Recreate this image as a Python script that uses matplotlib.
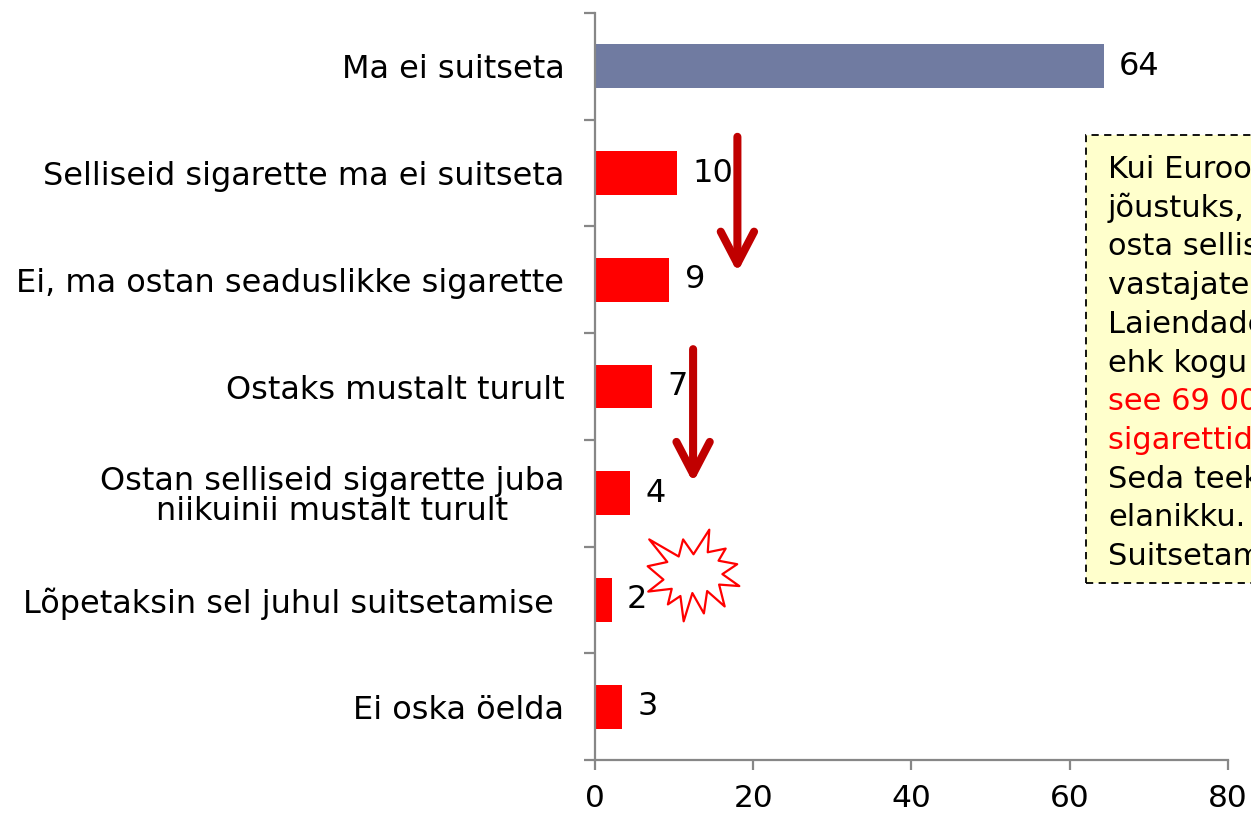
import numpy as np
import matplotlib
matplotlib.use("Agg")
from matplotlib import pyplot as plt
from matplotlib.patches import Rectangle, FancyArrowPatch
from matplotlib.path import Path

# andmed
categories = [
    "Ma ei suitseta",
    "Selliseid sigarette ma ei suitseta",
    "Ei, ma ostan seaduslikke sigarette",
    "Ostaks mustalt turult",
    "Ostan selliseid sigarette juba\nniikuinii mustalt turult",
    "Lõpetaksin sel juhul suitsetamise ",
    "Ei oska öelda",
]
values = [64.3, 10.4, 9.4, 7.2, 4.4, 2.1, 3.4]
value_labels = ["64", "10", "9", "7", "4", "2", "3"]
bar_colors = ["#707BA1", "#FF0000", "#FF0000", "#FF0000", "#FF0000", "#FF0000", "#FF0000"]
x_ticks = [0, 20, 40, 60, 80]

box_lines = [
    ("Kui Euroopa Liidu direktiiv", "black"),
    ("jõustuks, kavatseb 7%", "black"),
    ("osta selliseid sigarette", "black"),
    ("vastajatest mustalt turult.", "black"),
    ("Laiendades tulemusi", "black"),
    ("ehk kogu rahvastikule, on", "black"),
    ("see 69 000 mentoolsete", "red"),
    ("sigarettide ostjat.", "red"),
    ("Seda teeks juba praegu", "black"),
    ("elanikku.", "black"),
    ("Suitsetamise lõpetaks 2%.", "black"),
]

# nooled (x, y algus, y lõpp) andmeteljestikus
arrows = [(18.0, 0.66, 1.93), (12.4, 2.65, 3.90)]
burst = (12.37, 4.77)

# "plahvatuse" kujund (Exceli irregularSeal1)
seal = np.array([
    (10800, 5800), (14522, 0), (14155, 5325), (18380, 4457), (16702, 7315),
    (21097, 8137), (17607, 10475), (21600, 13290), (16837, 12942),
    (18145, 18095), (14020, 14457), (13247, 19737), (10532, 14935),
    (8485, 21600), (7715, 15627), (4762, 17617), (5667, 13937), (135, 14587),
    (3722, 11775), (0, 8615), (4627, 7617), (370, 2295), (7312, 6320),
    (8352, 2295), (10800, 5800),
], dtype=float)
seal = (seal - 10800) / 10800
seal[:, 1] *= -1
seal_path = Path(seal, closed=True)

spine_col = "#878787"
fs = 23

fig = plt.figure(figsize=(12.51, 8.13), dpi=100)
ax = fig.add_axes([0.4756, 0.0652, 0.506, 0.9188])

y = np.arange(len(categories))
ax.barh(y, values, height=0.41, color=bar_colors, zorder=2)
for yi, v, lab in zip(y, values, value_labels):
    ax.annotate(lab, (v, yi), xytext=(11, 0), textcoords="offset points",
                va="center", ha="left", fontsize=fs)

ax.set_xlim(0, 80)
ax.set_ylim(6.5, -0.5)

ax.set_yticks(y)
ax.set_yticklabels(categories, fontsize=fs, linespacing=0.95)
for t in ax.get_yticklabels():
    t.set_multialignment("center")
ax.tick_params(axis="y", which="major", length=0, pad=22)
ax.set_yticks(np.arange(-0.5, 7.0, 1.0), minor=True)
ax.tick_params(axis="y", which="minor", length=8, width=1.6, color=spine_col, direction="out")

ax.set_xticks(x_ticks)
ax.set_xticklabels([str(t) for t in x_ticks], fontsize=22.5)
ax.tick_params(axis="x", length=7, width=1.6, color=spine_col, direction="out", pad=10)

for s in ["top", "right"]:
    ax.spines[s].set_visible(False)
for s in ["left", "bottom"]:
    ax.spines[s].set_color(spine_col)
    ax.spines[s].set_linewidth(1.6)

for ax_x, y0, y1 in arrows:
    arr = FancyArrowPatch((ax_x, y0), (ax_x, y1),
                          arrowstyle="->,head_length=23,head_width=12",
                          mutation_scale=1, color="#C00000", lw=5.8,
                          shrinkA=0, shrinkB=0, zorder=3, clip_on=False)
    ax.add_patch(arr)

ax.plot([burst[0]], [burst[1]], marker=seal_path, markersize=66,
        markerfacecolor="white", markeredgecolor="red", markeredgewidth=1.6,
        zorder=4, clip_on=False)

# tekstikast
W, H = 1251, 813
box = Rectangle((1086 / W, 1 - 583 / H), 0.2, (583 - 135) / H,
                transform=fig.transFigure, facecolor="#FFFFCC",
                edgecolor="black", linestyle=(0, (4, 3)), lw=1.3, zorder=5)
fig.add_artist(box)
for i, (line, col) in enumerate(box_lines):
    fig.text(1108 / W, 1 - (178 + 38.7 * i) / H, line, color=col,
             fontsize=22, va="baseline", ha="left", zorder=6)

fig.savefig("out.png", dpi=100)
